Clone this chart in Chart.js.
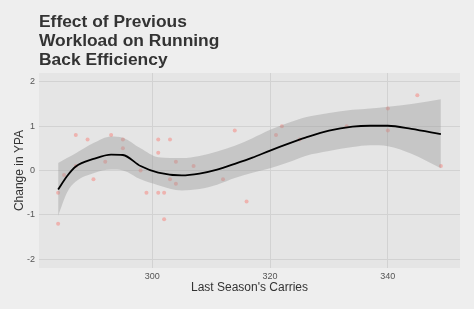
<!DOCTYPE html>
<html>
<head>
<meta charset="utf-8">
<script src="https://cdn.jsdelivr.net/npm/chart.js@4"></script>
<style>
  html, body { margin: 0; padding: 0; background: #eeeeee; }
  #wrap { width: 474px; height: 309px; }
</style>
</head>
<body>
<div id="wrap"><canvas id="carriesChart" width="474" height="309"></canvas></div>
<script>
// Dados: carregamentos da temporada anterior vs mudança em YPA
const carries = [284, 284, 285, 287, 287, 289, 290, 292, 293, 295, 295, 298, 299, 301, 301, 301, 302, 302, 303, 303, 304, 304, 307, 312, 314, 316, 321, 322, 325, 333, 340, 340, 345, 349];
const ypaChange = [-0.5, -1.2, -0.1, 0.8, 0.1, 0.7, -0.2, 0.2, 0.8, 0.7, 0.5, 0, -0.5, 0.7, 0.4, -0.5, -0.5, -1.1, 0.7, -0.2, 0.2, -0.3, 0.1, -0.2, 0.9, -0.7, 0.8, 1.0, 0.7, 1.0, 1.4, 0.9, 1.7, 0.1];

// Curva suavizada (loess) e banda de confiança
const fitX = [284, 285.5, 287, 290, 293, 295, 298, 301, 305, 308, 311, 314, 317, 320, 323, 326, 330, 334, 337, 340, 344, 349];
const fitY = [-0.43, -0.13, 0.09, 0.26, 0.36, 0.35, 0.1, -0.05, -0.11, -0.07, 0.02, 0.15, 0.29, 0.45, 0.6, 0.74, 0.9, 0.99, 1.01, 1.01, 0.94, 0.82];
const fitUpper = [0.17, 0.28, 0.39, 0.62, 0.77, 0.74, 0.5, 0.3, 0.28, 0.33, 0.43, 0.56, 0.73, 0.92, 1.07, 1.2, 1.3, 1.37, 1.4, 1.44, 1.5, 1.61];
const fitLower = [-1.02, -0.5, -0.25, -0.06, 0.02, 0.0, -0.2, -0.33, -0.45, -0.42, -0.32, -0.17, -0.05, 0.05, 0.18, 0.33, 0.44, 0.53, 0.57, 0.55, 0.38, 0.05];

const xTicks = [300, 320, 340];
const yTicks = [-2, -1, 0, 1, 2];
const titleLines = ['Effect of Previous', 'Workload on Running', 'Back Efficiency'];

const toXY = (xs, ys) => xs.map((x, i) => ({ x: x, y: ys[i] }));

// fundo do painel + título
const panelPlugin = {
  id: 'panel',
  beforeDraw(chart) {
    const { ctx, chartArea: a } = chart;
    ctx.save();
    ctx.fillStyle = '#e5e5e5';
    ctx.fillRect(a.left, a.top, a.right - a.left, a.bottom - a.top);
    ctx.restore();
  },
  afterDraw(chart) {
    const { ctx, chartArea: a } = chart;
    ctx.save();
    ctx.fillStyle = '#333333';
    ctx.font = 'bold 17.4px "Liberation Sans", Arial, sans-serif';
    ctx.textBaseline = 'alphabetic';
    titleLines.forEach((t, i) => ctx.fillText(t, a.left, 26.5 + i * 19));
    ctx.restore();
  }
};

const ctx = document.getElementById('carriesChart').getContext('2d');
const carriesChart = new Chart(ctx, {
  type: 'line',
  data: {
    datasets: [
      {
        label: 'loess',
        data: toXY(fitX, fitY),
        borderColor: '#000000',
        borderWidth: 1.8,
        pointRadius: 0,
        cubicInterpolationMode: 'monotone',
        fill: false,
        order: 0
      },
      {
        label: 'upper',
        data: toXY(fitX, fitUpper),
        borderWidth: 0,
        borderColor: 'rgba(0,0,0,0)',
        pointRadius: 0,
        cubicInterpolationMode: 'monotone',
        fill: false,
        order: 1
      },
      {
        label: 'lower',
        data: toXY(fitX, fitLower),
        borderWidth: 0,
        borderColor: 'rgba(0,0,0,0)',
        backgroundColor: 'rgba(153,153,153,0.4)',
        pointRadius: 0,
        cubicInterpolationMode: 'monotone',
        fill: '-1',
        order: 1
      },
      {
        label: 'pontos',
        data: toXY(carries, ypaChange),
        showLine: false,
        pointRadius: 2,
        pointBorderWidth: 0,
        pointBackgroundColor: 'rgba(248,118,109,0.45)',
        order: 2
      }
    ]
  },
  options: {
    responsive: false,
    animation: false,
    layout: { padding: { top: 73, right: 14, left: 0, bottom: 0 } },
    plugins: {
      legend: { display: false },
      tooltip: { enabled: false },
      title: { display: false }
    },
    scales: {
      x: {
        type: 'linear',
        min: 280.75,
        max: 352.25,
        afterBuildTicks: (s) => { s.ticks = xTicks.map(v => ({ value: v })); },
        afterFit: (s) => { s.height = 41; },
        border: { display: false },
        grid: { color: '#d2d2d2', lineWidth: 1, drawTicks: false },
        ticks: { color: '#555555', font: { size: 9, family: '"Liberation Sans", Arial, sans-serif' }, padding: 3 },
        title: {
          display: true,
          text: "Last Season's Carries",
          color: '#333333',
          font: { size: 12, family: '"Liberation Sans", Arial, sans-serif' },
          padding: { top: 0, bottom: 14 }
        }
      },
      y: {
        min: -2.2,
        max: 2.2,
        afterBuildTicks: (s) => { s.ticks = yTicks.map(v => ({ value: v })); },
        afterFit: (s) => { s.width = 39; },
        border: { display: false },
        grid: { color: '#d2d2d2', lineWidth: 1, drawTicks: false },
        ticks: { color: '#555555', font: { size: 9, family: '"Liberation Sans", Arial, sans-serif' }, padding: 4 },
        title: {
          display: true,
          text: 'Change in YPA',
          color: '#333333',
          font: { size: 12, family: '"Liberation Sans", Arial, sans-serif' },
          padding: { top: 12, bottom: 0 }
        }
      }
    }
  },
  plugins: [panelPlugin]
});
</script>
</body>
</html>
